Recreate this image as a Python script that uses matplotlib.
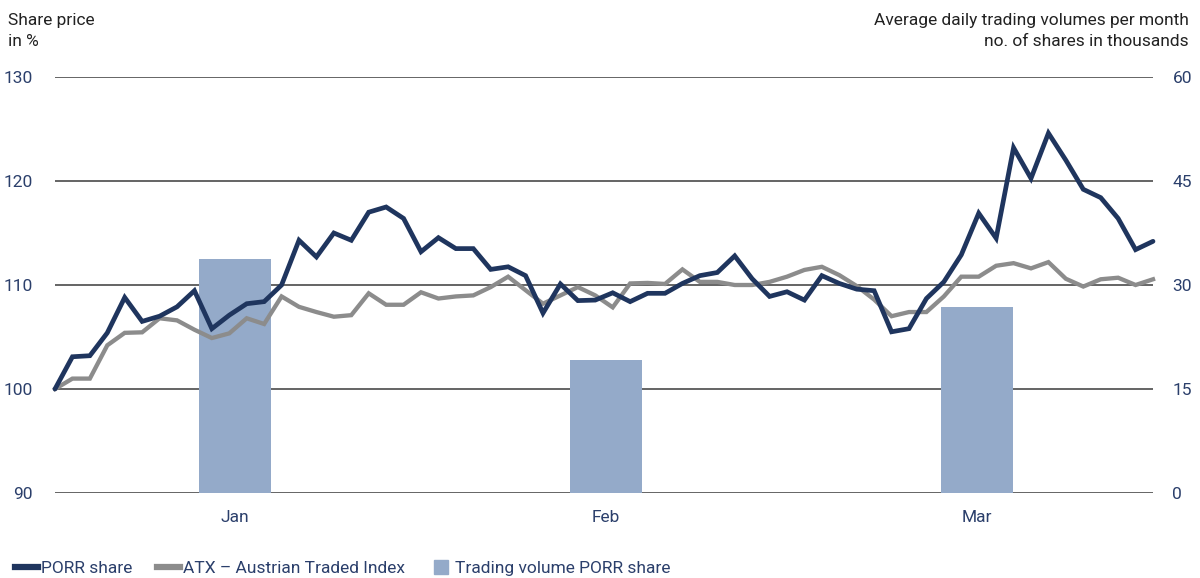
import matplotlib
matplotlib.use("Agg")
import matplotlib.pyplot as plt
from matplotlib.lines import Line2D

plt.rcParams['font.family'] = ['Roboto', 'DejaVu Sans']

months = ["Jan", "Feb", "Mar"]
volume = [33.8, 19.2, 26.8]

porr = [100.0, 103.1, 103.2, 105.4, 108.8, 106.5, 107.0, 107.9, 109.45, 105.8,
        107.1, 108.2, 108.4, 110.0, 114.3, 112.7, 115.0, 114.3, 117.0, 117.5,
        116.4, 113.2, 114.55, 113.5, 113.5, 111.5, 111.75, 110.9, 107.3, 110.1,
        108.5, 108.55, 109.25, 108.4, 109.2, 109.2, 110.15, 110.9, 111.2, 112.8,
        110.6, 108.9, 109.35, 108.55, 110.9, 110.15, 109.6, 109.45, 105.5, 105.8,
        108.7, 110.3, 112.9, 116.9, 114.5, 123.2, 120.25, 124.6, 122.0, 119.2,
        118.4, 116.4, 113.4, 114.2]
atx = [100.0, 101.0, 101.0, 104.2, 105.4, 105.45, 106.8, 106.6, 105.7, 104.9,
       105.35, 106.8, 106.25, 108.9, 107.9, 107.4, 106.95, 107.1, 109.2, 108.1,
       108.1, 109.3, 108.7, 108.9, 109.0, 109.8, 110.8, 109.5, 108.2, 109.0,
       109.8, 109.0, 107.85, 110.15, 110.2, 110.1, 111.5, 110.3, 110.3, 110.0,
       110.0, 110.3, 110.8, 111.45, 111.75, 110.95, 109.9, 108.6, 107.0, 107.4,
       107.4, 108.9, 110.8, 110.8, 111.85, 112.1, 111.6, 112.2, 110.6, 109.85,
       110.55, 110.7, 110.0, 110.55]

# month centre positions on the trading-day axis
month_pos = [10.3, 31.6, 52.9]
bar_width = 4.13

navy = "#1f355e"
gray = "#8c8c8c"
barc = "#94aac9"
txt = "#2b3f6b"

W, H = 1200, 578
fig = plt.figure(figsize=(W / 100, H / 100), dpi=100)
left, right, bottom, top = 55, 1153, 493, 77
ax2 = fig.add_axes([left / W, 1 - bottom / H, (right - left) / W, (bottom - top) / H])
ax = ax2.twinx()
ax.set_zorder(ax2.get_zorder() + 1)
ax.patch.set_visible(False)

x = list(range(len(porr)))

ax2.bar(month_pos, volume, width=bar_width, color=barc, zorder=2)
ax2.set_ylim(0, 60)
ax2.set_yticks([0, 15, 30, 45, 60])
for v in [0, 15, 30, 45, 60]:
    ax2.axhline(v, color="#3a3a3a", lw=1.1, zorder=1)

ax.plot(x, atx, color=gray, lw=3.1, solid_joinstyle="miter", zorder=3, clip_on=False)
ax.plot(x, porr, color=navy, lw=3.4, solid_joinstyle="miter", solid_capstyle="round",
        zorder=4, clip_on=False)
ax.set_ylim(90, 130)
ax.set_yticks([90, 100, 110, 120, 130])
ax.set_xlim(0, len(porr) - 1)

ax.yaxis.tick_left()
ax2.yaxis.tick_right()
ax2.set_xticks(month_pos)
ax2.set_xticklabels(months)
for a in (ax, ax2):
    for s in a.spines.values():
        s.set_visible(False)
ax.tick_params(axis="y", length=0, pad=16, labelsize=12.5, labelcolor=txt)
ax2.tick_params(axis="y", length=0, pad=14, labelsize=12.5, labelcolor=txt)
ax2.tick_params(axis="x", length=0, pad=12, labelsize=12.5, labelcolor=txt)
ax.tick_params(axis="x", length=0, labelbottom=False)
for lab in ax2.get_yticklabels():
    lab.set_horizontalalignment("left")

fig.text(8 / W, 1 - 20 / H, "Share price", fontsize=12.5, color="#222222", va="center", ha="left")
fig.text(8 / W, 1 - 41 / H, "in %", fontsize=12.5, color="#222222", va="center", ha="left")
fig.text(1189 / W, 1 - 20 / H, "Average daily trading volumes per month", fontsize=12.5,
         color="#222222", va="center", ha="right")
fig.text(1189 / W, 1 - 41 / H, "no. of shares in thousands", fontsize=12.5,
         color="#222222", va="center", ha="right")

handles = [Line2D([], [], color=navy, lw=4.5),
           Line2D([], [], color=gray, lw=4.5),
           Line2D([], [], color=barc, marker="s", markersize=9.5, linestyle="none")]
labels = ["PORR share", "ATX – Austrian Traded Index", "Trading volume PORR share"]
leg = fig.legend(handles, labels, loc="center left", bbox_to_anchor=(10 / W, 10 / H), ncol=3,
                 frameon=False, fontsize=12.5, handlelength=1.3, handletextpad=0.2,
                 columnspacing=1.4, borderaxespad=0, borderpad=0.3)
for t in leg.get_texts():
    t.set_color(txt)

fig.savefig("out.png", dpi=100)
